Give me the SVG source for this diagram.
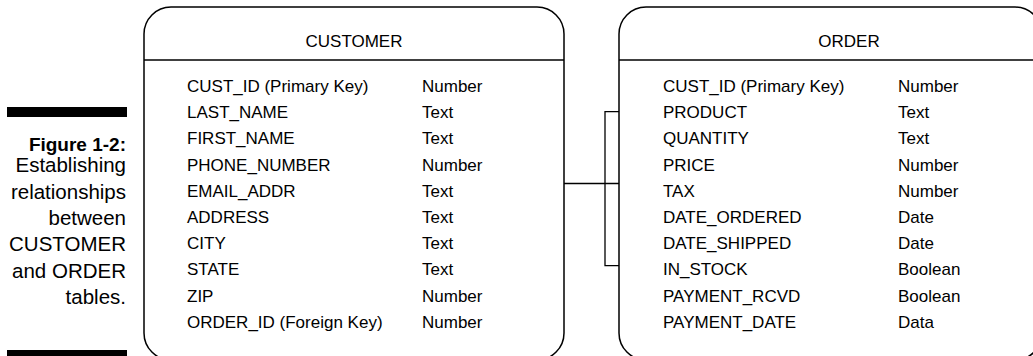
<svg xmlns="http://www.w3.org/2000/svg" width="1033" height="356" viewBox="0 0 1033 356">
<style>
.box{fill:#fff;stroke:#000;stroke-width:1.5}
.ln{stroke:#000;stroke-width:1.3;fill:none}
.t{font-family:"Liberation Sans",Arial,sans-serif;font-size:17px;fill:#000}
.h{font-family:"Liberation Sans",Arial,sans-serif;font-size:17px;fill:#000;text-anchor:middle}
.cap{font-family:"Liberation Sans",Arial,sans-serif;font-size:20.5px;fill:#000;text-anchor:end}
.capb{font-family:"Liberation Sans",Arial,sans-serif;font-size:19px;font-weight:bold;fill:#000;text-anchor:end}
</style>
<rect width="1033" height="356" fill="#fff"/>
<g id="caption">
<rect x="7" y="107" width="120" height="10" fill="#000"/>
<rect x="7" y="350" width="120" height="8" fill="#000"/>
<text class="capb" x="126" y="151">Figure 1-2:</text>
<text class="cap" x="126" y="172">Establishing</text>
<text class="cap" x="126" y="198.5">relationships</text>
<text class="cap" x="126" y="225">between</text>
<text class="cap" x="126" y="251">CUSTOMER</text>
<text class="cap" x="126" y="277.5">and ORDER</text>
<text class="cap" x="126" y="304">tables.</text>
</g>
<g id="customer">
<rect class="box" x="144" y="7" width="420" height="353" rx="27" ry="27"/>
<line class="ln" x1="144" y1="60" x2="564" y2="60"/>
<text class="h" x="354" y="47">CUSTOMER</text>
<text class="t" x="187" y="92">CUST_ID (Primary Key)</text><text class="t" x="422" y="92">Number</text>
<text class="t" x="187" y="118.2">LAST_NAME</text><text class="t" x="422" y="118.2">Text</text>
<text class="t" x="187" y="144.4">FIRST_NAME</text><text class="t" x="422" y="144.4">Text</text>
<text class="t" x="187" y="170.6">PHONE_NUMBER</text><text class="t" x="422" y="170.6">Number</text>
<text class="t" x="187" y="196.8">EMAIL_ADDR</text><text class="t" x="422" y="196.8">Text</text>
<text class="t" x="187" y="223">ADDRESS</text><text class="t" x="422" y="223">Text</text>
<text class="t" x="187" y="249.2">CITY</text><text class="t" x="422" y="249.2">Text</text>
<text class="t" x="187" y="275.4">STATE</text><text class="t" x="422" y="275.4">Text</text>
<text class="t" x="187" y="301.6">ZIP</text><text class="t" x="422" y="301.6">Number</text>
<text class="t" x="187" y="327.8">ORDER_ID (Foreign Key)</text><text class="t" x="422" y="327.8">Number</text>
</g>
<g id="order">
<rect class="box" x="619" y="7" width="423" height="353" rx="27" ry="27"/>
<line class="ln" x1="619" y1="60" x2="1033" y2="60"/>
<text class="h" x="849" y="47">ORDER</text>
<text class="t" x="663" y="92">CUST_ID (Primary Key)</text><text class="t" x="898" y="92">Number</text>
<text class="t" x="663" y="118.2">PRODUCT</text><text class="t" x="898" y="118.2">Text</text>
<text class="t" x="663" y="144.4">QUANTITY</text><text class="t" x="898" y="144.4">Text</text>
<text class="t" x="663" y="170.6">PRICE</text><text class="t" x="898" y="170.6">Number</text>
<text class="t" x="663" y="196.8">TAX</text><text class="t" x="898" y="196.8">Number</text>
<text class="t" x="663" y="223">DATE_ORDERED</text><text class="t" x="898" y="223">Date</text>
<text class="t" x="663" y="249.2">DATE_SHIPPED</text><text class="t" x="898" y="249.2">Date</text>
<text class="t" x="663" y="275.4">IN_STOCK</text><text class="t" x="898" y="275.4">Boolean</text>
<text class="t" x="663" y="301.6">PAYMENT_RCVD</text><text class="t" x="898" y="301.6">Boolean</text>
<text class="t" x="663" y="327.8">PAYMENT_DATE</text><text class="t" x="898" y="327.8">Data</text>
</g>
<g id="connectors">
<line class="ln" x1="564" y1="183.5" x2="619" y2="183.5"/>
<polyline class="ln" points="619,111.7 605,111.7 605,265.7 619,265.7"/>
</g>
</svg>
